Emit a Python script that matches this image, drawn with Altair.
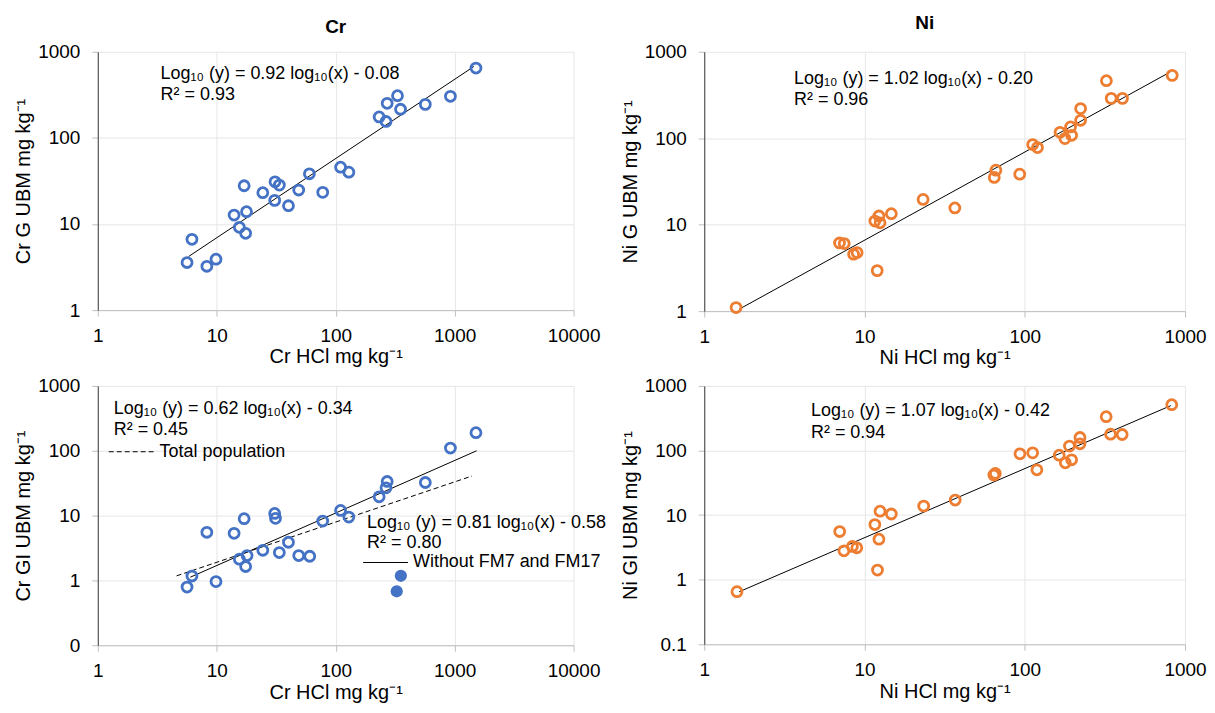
import altair as alt
import pandas as pd

FONT = "Liberation Sans"
BLUE = "#4472C4"
ORANGE = "#ED7D31"

# ---- Cr : gastric phase (G) ----
cr_g_x = [5.63, 6.19, 8.26, 9.86, 14.0, 15.5, 17.0, 17.8, 17.5, 24.4, 30.9, 33.6, 30.7, 40.1,
          48.9, 60.1, 77.8, 110, 129, 232, 265, 271, 331, 351, 567, 922, 1511]
cr_g_y = [3.57, 6.64, 3.23, 3.90, 12.7, 9.15, 27.8, 13.9, 7.8, 23.1, 30.9, 28.3, 18.8, 16.3,
          24.8, 38.3, 23.3, 45.7, 40.0, 175, 155, 252, 309, 215, 245, 304, 647]

# ---- Cr : gastro-intestinal phase (GI) ----
cr_gi_x = [5.63, 6.19, 8.26, 9.86, 14.0, 15.5, 17.0, 18.0, 17.5, 24.4, 30.7, 31.2, 33.6, 40.1,
           48.9, 60.5, 77.8, 110, 129, 232, 265, 271, 567, 922, 1511]
cr_gi_y = [0.79, 1.17, 5.53, 0.96, 5.33, 2.13, 8.96, 2.42, 1.64, 2.92, 10.8, 9.07, 2.69, 3.88,
           2.42, 2.36, 8.25, 12.0, 9.5, 19.5, 26.8, 33.6, 32.4, 110, 190]
cr_gi_out_x = [326, 353]      # FM7, FM17
cr_gi_out_y = [0.68, 1.18]

# ---- Ni : G ----
ni_g_x = [1.58, 6.98, 7.47, 8.55, 8.99, 12.0, 11.6, 12.3, 12.5, 14.7, 23.2, 36.6, 64.5, 66.0,
          93.0, 112, 120, 166, 178, 193, 196, 223, 223, 323, 346, 407, 831]
ni_g_y = [1.10, 6.14, 6.04, 4.55, 4.75, 2.94, 11.0, 12.6, 10.5, 13.4, 19.6, 15.6, 35.2, 42.7,
          38.4, 84.5, 78.0, 117, 99, 135, 108, 220, 161, 463, 289, 289, 533]

# ---- Ni : GI ----
ni_gi_x = [1.60, 7.0, 7.44, 8.4, 8.95, 11.6, 12.05, 12.3, 12.5, 14.7, 23.4, 36.8, 64.1, 65.5,
           93.3, 112, 119, 164, 179, 190, 196, 221, 221, 322, 343, 405, 826]
ni_gi_y = [0.653, 5.57, 2.80, 3.27, 3.12, 7.14, 1.41, 4.24, 11.5, 10.4, 13.8, 17.1, 41.7, 44.2,
           88.9, 92, 50.3, 84.7, 64.5, 117, 71.8, 159, 127, 334, 179, 177, 512]

# ---- fitted lines: slope, intercept (log10 space), x range ----
cr_g_fit = [0.92, -0.08, 5.8, 1450]
cr_gi_fit_all = [0.62, -0.34, 4.6, 1400]
cr_gi_fit_sub = [0.81, -0.58, 6.0, 1530]
ni_g_fit = [1.02, -0.20, 1.65, 810]
ni_gi_fit = [1.07, -0.42, 1.65, 815]

GRID = "#E6E6E6"
LIGHT = "#BFBFBF"


def enc(xdom, ydom, xvals, yvals, xtitle, ytitle, yfmt="d", ylabelexpr=None):
    xs = alt.Scale(type="log", domain=xdom, nice=False)
    ys = alt.Scale(type="log", domain=ydom, nice=False)
    xa = alt.Axis(values=xvals, format="d", title=xtitle, domainColor=LIGHT)
    yargs = dict(values=yvals, format=yfmt, title=ytitle, domainColor="#3A3A3A")
    if ylabelexpr:
        yargs["labelExpr"] = ylabelexpr
    ya = alt.Axis(**yargs)
    return dict(x=alt.X("x:Q", scale=xs, axis=xa), y=alt.Y("y:Q", scale=ys, axis=ya))


def pts(xv, yv, e, color, filled=False):
    df = pd.DataFrame({"x": xv, "y": yv})
    if filled:
        m = alt.Chart(df).mark_point(shape="circle", filled=True, color=color, size=150, opacity=1)
    else:
        m = alt.Chart(df).mark_point(shape="circle", filled=False, color=color, size=100,
                                     strokeWidth=2.8, opacity=1)
    return m.encode(**e)


def trend(fit, e, dash=None):
    slope, icpt, x0, x1 = fit
    df = pd.DataFrame({"x": [x0, x1]})
    kw = dict(color="black", strokeWidth=1)
    if dash:
        kw["strokeDash"] = dash
    return (alt.Chart(df)
            .transform_calculate(y=f"pow(10, {slope} * log(datum.x) / LN10 + ({icpt}))")
            .mark_line(**kw).encode(**e))


def txt(s, x, y, size=18):
    return (alt.Chart(pd.DataFrame({"t": [s]}))
            .mark_text(align="left", baseline="middle", fontSize=size, font=FONT, color="#000")
            .encode(text="t:N", x=alt.value(x), y=alt.value(y)))


def seg(x0, x1, y, dash=None):
    kw = dict(color="black", strokeWidth=1.2)
    if dash:
        kw["strokeDash"] = dash
    return (alt.Chart(pd.DataFrame({"a": [0]})).mark_rule(**kw)
            .encode(x=alt.value(x0), x2=alt.value(x1), y=alt.value(y)))


# ---- Top-left: Cr G ----
e1 = enc([1, 10000], [1, 1000], [1, 10, 100, 1000, 10000], [1, 10, 100, 1000],
         "Cr HCl mg kg⁻¹", "Cr G UBM mg kg⁻¹")
p1 = alt.layer(
    trend(cr_g_fit, e1),
    pts(cr_g_x, cr_g_y, e1, BLUE),
    txt("Log₁₀ (y) = 0.92 log₁₀(x) - 0.08", 63, 22),
    txt("R² = 0.93", 63, 43),
).properties(width=477, height=259,
             title=alt.TitleParams("Cr", fontSize=19, fontWeight="bold", font=FONT, offset=6))

# ---- Bottom-left: Cr GI ----
e3 = enc([1, 10000], [0.1, 1000], [1, 10, 100, 1000, 10000], [0.1, 1, 10, 100, 1000],
         "Cr HCl mg kg⁻¹", "Cr GI UBM mg kg⁻¹", ylabelexpr="datum.value < 1 ? '0' : datum.label")
p3 = alt.layer(
    trend(cr_gi_fit_all, e3, dash=[5, 3]),
    trend(cr_gi_fit_sub, e3),
    pts(cr_gi_x, cr_gi_y, e3, BLUE),
    pts(cr_gi_out_x, cr_gi_out_y, e3, BLUE, filled=True),
    txt("Log₁₀ (y) = 0.62 log₁₀(x) - 0.34", 16, 23),
    txt("R² = 0.45", 16, 44),
    seg(11, 57, 66, dash=[5, 3]),
    txt("Total population", 62, 66),
    txt("Log₁₀ (y) = 0.81 log₁₀(x) - 0.58", 270, 137),
    txt("R² = 0.80", 270, 157),
    seg(266, 311, 177),
    txt("Without FM7 and FM17", 316, 177),
).properties(width=477, height=260)

# ---- Top-right: Ni G ----
e2 = enc([1, 1000], [1, 1000], [1, 10, 100, 1000], [1, 10, 100, 1000],
         "Ni HCl mg kg⁻¹", "Ni G UBM mg kg⁻¹")
p2 = alt.layer(
    trend(ni_g_fit, e2),
    pts(ni_g_x, ni_g_y, e2, ORANGE),
    txt("Log₁₀ (y) = 1.02 log₁₀(x) - 0.20", 90, 27),
    txt("R² = 0.96", 90, 48),
).properties(width=482, height=260,
             title=alt.TitleParams("Ni", fontSize=19, fontWeight="bold", font=FONT, offset=10, dx=-20))

# ---- Bottom-right: Ni GI ----
e4 = enc([1, 1000], [0.1, 1000], [1, 10, 100, 1000], [0.1, 1, 10, 100, 1000],
         "Ni HCl mg kg⁻¹", "Ni GI UBM mg kg⁻¹", yfmt="~g")
p4 = alt.layer(
    trend(ni_gi_fit, e4),
    pts(ni_gi_x, ni_gi_y, e4, ORANGE),
    txt("Log₁₀ (y) = 1.07 log₁₀(x) - 0.42", 107, 25),
    txt("R² = 0.94", 107, 47),
).properties(width=482, height=259)

chart = (alt.concat(p1, p2, p3, p4, columns=2, spacing={"row": 75, "column": 131}, bounds="flush")
         .properties(padding={"left": 5, "top": 5, "right": 0, "bottom": 0}, background="white")
         .configure_view(strokeWidth=0)
         .configure_axis(labelFont=FONT, titleFont=FONT, labelFontSize=19, titleFontSize=20,
                         labelColor="#000", titleColor="#000", titleFontWeight="normal",
                         grid=True, gridColor=GRID, gridWidth=1, tickColor=LIGHT, tickSize=6,
                         labelFlush=False, labelOverlap=False, labelPadding=8, titlePadding=4)
         .configure_axisX(labelPadding=10, titlePadding=2)
         .configure_axisY(labelPadding=12, titlePadding=4))

chart.save("out.html", embed_options={"renderer": "svg", "actions": False})
